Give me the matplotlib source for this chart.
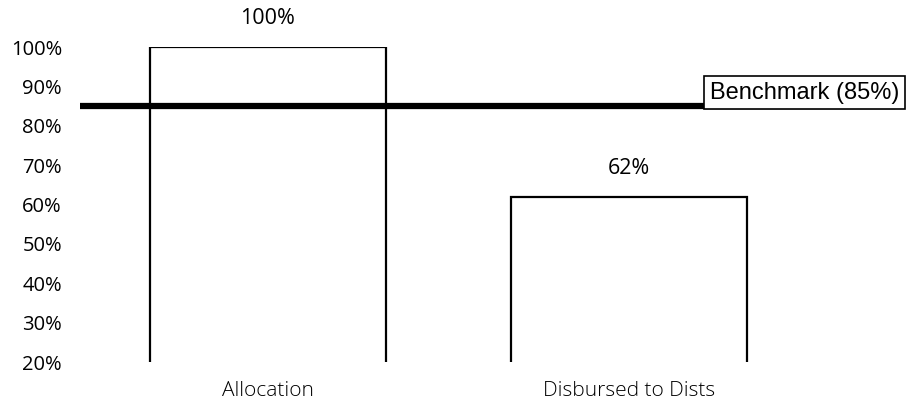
import matplotlib.pyplot as plt

categories = ['Allocation', 'Disbursed to Dists']
values = [100, 62]
bar_labels = ['100%', '62%']
benchmark = 85
benchmark_label = 'Benchmark (85%)'
yticks = [20, 30, 40, 50, 60, 70, 80, 90, 100]
ytick_labels = ['%d%%' % t for t in yticks]

W, H = 922, 411
fig = plt.figure(figsize=(W / 100, H / 100), dpi=100)
ax = fig.add_axes([80 / W, (H - 362) / H, (895 - 80) / W, (362 - 47) / H])

x = list(range(len(categories)))
ax.bar(x, values, width=0.655, bottom=0, color='white', edgecolor='black', linewidth=1.6, zorder=2)

# value labels above bars
for xi, v, lab in zip(x, values, bar_labels):
    ax.text(xi, v + 4.5, lab, ha='center', va='bottom', fontsize=15.5, family='Open Sans', clip_on=False)

# benchmark line + label box
ax.axhline(benchmark, color='black', linewidth=4.5, zorder=3)
ax.text(1.225, benchmark + 1.9, benchmark_label, ha='left', va='baseline', fontsize=17,
        family='Liberation Sans', clip_on=False, zorder=4,
        bbox=dict(boxstyle='square,pad=0.25', facecolor='white', edgecolor='black', linewidth=1.2))

ax.set_xlim(-0.52, 1.737)
ax.set_ylim(20, 100)
ax.set_yticks(yticks)
ax.set_yticklabels(ytick_labels, fontsize=14.5, family='Open Sans')
ax.set_xticks(x)
ax.set_xticklabels(categories, fontsize=15, family='Open Sans', fontweight='light')
ax.tick_params(axis='both', length=0)
ax.tick_params(axis='y', pad=13)
ax.tick_params(axis='x', pad=14)
for s in ax.spines.values():
    s.set_visible(False)

fig.savefig('out.png', dpi=100)
